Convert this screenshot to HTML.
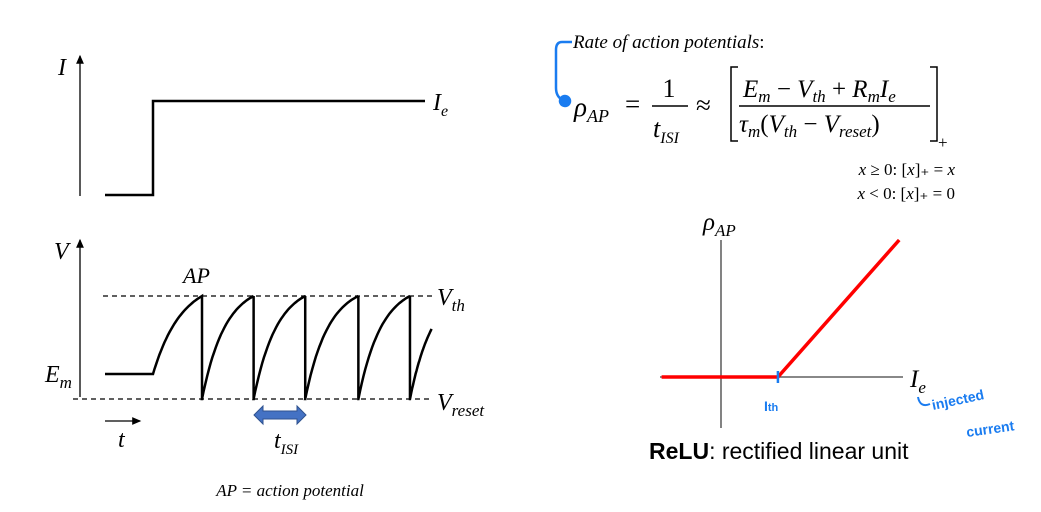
<!DOCTYPE html>
<html><head><meta charset="utf-8"><style>
html,body{margin:0;padding:0;background:#fff;width:1041px;height:512px;overflow:hidden}
svg{display:block}
.m{font-family:"Liberation Serif",serif;font-style:italic;fill:#000}
.r{font-family:"Liberation Serif",serif;fill:#000}
</style></head><body>
<svg id="s" width="1041" height="512" viewBox="0 0 1041 512">
<defs>
<marker id="ah" markerWidth="8" markerHeight="8" refX="6" refY="4" orient="auto"><path d="M0,1 L7,4 L0,7 z" fill="#000"/></marker>
<marker id="ab" markerWidth="6" markerHeight="6" refX="3" refY="3" orient="auto"><circle cx="3" cy="3" r="2.5" fill="#1a7cf0"/></marker>
</defs>
<g>
<line x1="80" y1="196" x2="80" y2="56" stroke="#000" stroke-width="1.3" marker-end="url(#ah)"/>
<text x="58" y="75" class="m" font-size="24">I</text>
<polyline points="105,195 153,195 153,101 425,101" fill="none" stroke="#000" stroke-width="2.5"/>
<text x="433" y="110" class="m" font-size="24">I<tspan font-size="16" dy="6">e</tspan></text>
</g>
<g id="vp">
<line x1="80" y1="397" x2="80" y2="240" stroke="#000" stroke-width="1.3" marker-end="url(#ah)"/>
<text x="54" y="259" class="m" font-size="24">V</text>
<line x1="103" y1="296" x2="432" y2="296" stroke="#000" stroke-width="1.3" stroke-dasharray="5,4"/>
<line x1="73" y1="399" x2="432" y2="399" stroke="#000" stroke-width="1.3" stroke-dasharray="5,4"/>
<text x="437" y="305" class="m" font-size="24">V<tspan font-size="17" dy="6">th</tspan></text>
<text x="437" y="410" class="m" font-size="24">V<tspan font-size="17" dy="6">reset</tspan></text>
<text x="45" y="382" class="m" font-size="24">E<tspan font-size="17" dy="6">m</tspan></text>
<text x="183" y="283" class="m" font-size="22">AP</text>
<line x1="105" y1="421" x2="140" y2="421" stroke="#000" stroke-width="1.3" marker-end="url(#ah)"/>
<text x="118" y="447" class="m" font-size="24">t</text>
<path d="M254,415 L263,406 L263,411 L297,411 L297,406 L306,415 L297,424 L297,419 L263,419 L263,424 Z" fill="#4472c4" stroke="#2f528f" stroke-width="1"/>
<text x="274" y="448" class="m" font-size="24">t<tspan font-size="15" dy="6">ISI</tspan></text>
<text x="290" y="496" class="m" font-size="17" text-anchor="middle">AP = action potential</text>
</g>
<g>
<path d="M572,42 L562,42 Q556,42 556,50 L556,88 Q556,98 565,101" fill="none" stroke="#1a7cf0" stroke-width="2.5" marker-end="url(#ab)"/>
<text x="573" y="48" class="m" font-size="19">Rate of action potentials<tspan font-style="normal">:</tspan></text>
<text x="574" y="116" class="m" font-size="27">ρ<tspan font-size="18" dy="6">AP</tspan></text>
<text x="625" y="113" class="r" font-size="27">=</text>
<text x="669" y="97" class="r" font-size="26" text-anchor="middle">1</text>
<line x1="652" y1="106" x2="688" y2="106" stroke="#000" stroke-width="1.5"/>
<text x="653" y="137" class="m" font-size="26">t<tspan font-size="16" dy="6">ISI</tspan></text>
<text x="696" y="114" class="r" font-size="27">≈</text>
<path d="M738,67 L731,67 L731,141 L738,141" fill="none" stroke="#000" stroke-width="1.5"/>
<path d="M930,67 L937,67 L937,141 L930,141" fill="none" stroke="#000" stroke-width="1.5"/>
<text x="743" y="97" class="m" font-size="25">E<tspan font-size="17" dy="5">m</tspan><tspan dy="-5" font-style="normal"> − </tspan>V<tspan font-size="17" dy="5">th</tspan><tspan dy="-5" font-style="normal"> + </tspan>R<tspan font-size="17" dy="5">m</tspan><tspan dy="-5">I</tspan><tspan font-size="17" dy="5">e</tspan></text>
<line x1="739" y1="106" x2="930" y2="106" stroke="#000" stroke-width="1.5"/>
<text x="739" y="132" class="m" font-size="25">τ<tspan font-size="17" dy="5">m</tspan><tspan dy="-5" font-style="normal">(</tspan>V<tspan font-size="17" dy="5">th</tspan><tspan dy="-5" font-style="normal"> − </tspan>V<tspan font-size="17" dy="5">reset</tspan><tspan dy="-5" font-style="normal">)</tspan></text>
<text x="938" y="148" class="r" font-size="17">+</text>
<text x="955" y="175" class="m" font-size="17" text-anchor="end">x <tspan font-style="normal">≥ 0: [</tspan>x<tspan font-style="normal">]₊ = </tspan>x</text>
<text x="955" y="199" class="m" font-size="17" text-anchor="end">x <tspan font-style="normal">&lt; 0: [</tspan>x<tspan font-style="normal">]₊ = 0</tspan></text>
</g>
<g id="relu">
<line x1="721" y1="240" x2="721" y2="428" stroke="#404040" stroke-width="1.3"/>
<line x1="660" y1="377" x2="903" y2="377" stroke="#404040" stroke-width="1.3"/>
<text x="703" y="230" class="m" font-size="25">ρ<tspan font-size="17" dy="6">AP</tspan></text>
<text x="910" y="387" class="m" font-size="25">I<tspan font-size="17" dy="6">e</tspan></text>
<text x="764" y="411" font-family="Liberation Sans,sans-serif" font-size="14" fill="#1a7cf0" font-weight="bold">I<tspan font-size="11">th</tspan></text>
<path d="M918,397 Q920,408 930,404" fill="none" stroke="#1a7cf0" stroke-width="2"/>
<text x="933" y="410" font-family="Liberation Sans,sans-serif" font-size="14" font-weight="bold" fill="#1a7cf0" transform="rotate(-12 933 410)">injected</text>
<text x="967" y="437" font-family="Liberation Sans,sans-serif" font-size="14" font-weight="bold" fill="#1a7cf0" transform="rotate(-8 967 437)">current</text>
<text x="649" y="459" font-family="Liberation Sans,sans-serif" font-size="23" fill="#000"><tspan font-weight="bold">ReLU</tspan>: rectified linear unit</text>
</g>
</svg>
<script>
// Voltage trace data (time units; spike times)
const onsetTime = [0];
const spikeTimes = [0.95, 1.95, 2.95, 3.98, 4.98];
const endTime = [5.4];
const voltageLevels = [0, 1]; // 0 = reset, 1 = threshold
// ReLU data
const reluInputs = [-1.2, 1.15, 3.6];
const reluOutputs = [0, 0, 1];
const thresholdCurrent = [1.15];

const NS = "http://www.w3.org/2000/svg";
const xT = t => 153 + t * 51.6;
const yV = v => 399 - v * 103;
const emY = 374;
const vp = document.getElementById('vp');
function charge(t0, t1, yStart) {
  const tau = 0.55;
  let d = '';
  const T = t1 - t0;
  const k = (yStart - yV(1)) / (1 - Math.exp(-T / tau));
  for (let i = 0; i <= 30; i++) {
    const t = t0 + (t1 - t0) * i / 30;
    const y = yStart - k * (1 - Math.exp(-(t - t0) / tau));
    d += (i ? ' L' : 'M') + xT(t).toFixed(1) + ',' + y.toFixed(1);
  }
  return d;
}
function charge2(t0, t1, T) {
  const tau = 0.45, y0 = yV(0), k = (y0 - yV(1)) / (1 - Math.exp(-T / tau));
  let s = '';
  for (let i = 0; i <= 30; i++) {
    const t = t0 + (t1 - t0) * i / 30;
    const y = y0 - k * (1 - Math.exp(-(t - t0) / tau));
    s += ' L' + xT(t).toFixed(1) + ',' + y.toFixed(1);
  }
  return s;
}
let d = 'M105,' + emY + ' L' + xT(onsetTime[0]) + ',' + emY + ' ';
d += charge(onsetTime[0], spikeTimes[0], emY).replace('M', 'L');
for (let i = 0; i < spikeTimes.length; i++) {
  d += ' L' + xT(spikeTimes[i]) + ',' + yV(voltageLevels[0]);
  const t1 = i + 1 < spikeTimes.length ? spikeTimes[i + 1] : endTime[0];
  const T = i + 1 < spikeTimes.length ? t1 - spikeTimes[i] : 1;
  d += charge2(spikeTimes[i], t1, T);
  if (i + 1 < spikeTimes.length) d += ' M' + xT(spikeTimes[i + 1]) + ',' + yV(1);
}
const trace = document.createElementNS(NS, 'path');
trace.setAttribute('d', d);
trace.setAttribute('fill', 'none');
trace.setAttribute('stroke', '#000');
trace.setAttribute('stroke-width', '2.5');


vp.appendChild(trace);

const xR = v => 721 + v * 49.5;
const yR = v => 377 - v * 137;
const relu = document.getElementById('relu');
const pl = document.createElementNS(NS, 'polyline');
pl.setAttribute('points', reluInputs.map((x, i) => xR(x) + ',' + yR(reluOutputs[i])).join(' '));
pl.setAttribute('fill', 'none');
pl.setAttribute('stroke', '#ff0000');
pl.setAttribute('stroke-width', '3.5');


relu.appendChild(pl);
const tk = document.createElementNS(NS, 'line');
tk.setAttribute('x1', xR(thresholdCurrent[0])); tk.setAttribute('x2', xR(thresholdCurrent[0]));
tk.setAttribute('y1', 371); tk.setAttribute('y2', 383);
tk.setAttribute('stroke', '#1a7cf0'); tk.setAttribute('stroke-width', '2.5');


relu.appendChild(tk);
</script>
</body></html>
